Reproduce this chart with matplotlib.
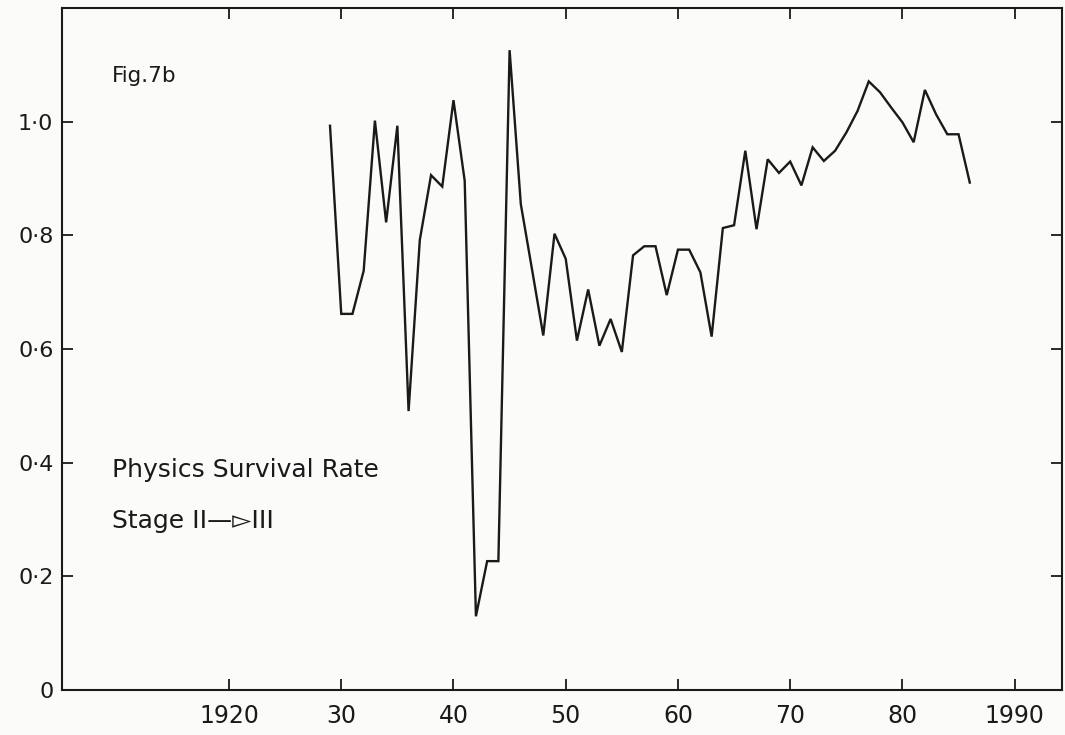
#!/usr/bin/env python3
import numpy as np
import matplotlib
matplotlib.use("Agg")
import matplotlib.pyplot as plt

# survival rate, stage II -> III, one value per year
years = list(range(1929, 1987))
rate = [
    0.993, 0.662, 0.662, 0.738, 1.002, 0.823, 0.993, 0.491, 0.792, 0.906,  # 1929-38
    0.886, 1.038, 0.896, 0.130, 0.227, 0.227, 1.126, 0.855, 0.740, 0.624,  # 1939-48
    0.803, 0.759, 0.615, 0.705, 0.606, 0.653, 0.595, 0.765, 0.781, 0.781,  # 1949-58
    0.695, 0.775, 0.775, 0.735, 0.622, 0.813, 0.818, 0.949, 0.811, 0.934,  # 1959-68
    0.910, 0.930, 0.888, 0.955, 0.931, 0.949, 0.981, 1.019, 1.071, 1.052,  # 1969-78
    1.025, 0.999, 0.964, 1.056, 1.013, 0.978, 0.978, 0.893,                # 1979-86
]

xticks = [1920, 1930, 1940, 1950, 1960, 1970, 1980, 1990]
xticklabels = ["1920", "30", "40", "50", "60", "70", "80", "1990"]
yticks = [0, 0.2, 0.4, 0.6, 0.8, 1.0]
yticklabels = ["0", "0·2", "0·4", "0·6", "0·8", "1·0"]

fig = plt.figure(figsize=(10.65, 7.35), dpi=100)
fig.patch.set_facecolor("#fbfbfa")
ax = fig.add_axes([0.058, 0.061, 0.939, 0.928])
ax.set_facecolor("#fbfbfa")

ax.plot(years, rate, color="#1a1a1a", lw=1.7, solid_joinstyle="miter")

ax.set_xlim(1905.1, 1994.2)
ax.set_ylim(0, 1.2)

ax.set_xticks(xticks)
ax.set_xticklabels(xticklabels, fontsize=17)
ax.set_yticks(yticks)
ax.set_yticklabels(yticklabels, fontsize=16)

ax.tick_params(axis="both", direction="in", length=8, width=1.3, color="#1a1a1a",
               top=True, right=True, labelcolor="#1a1a1a")
ax.tick_params(axis="x", pad=10)
ax.tick_params(axis="y", pad=6)

for s in ax.spines.values():
    s.set_linewidth(1.5)
    s.set_color("#1a1a1a")

ax.text(1909.6, 1.08, "Fig.7b", fontsize=15.5, color="#1a1a1a", va="center")
ax.text(1909.6, 0.388, "Physics Survival Rate", fontsize=18, color="#1a1a1a", va="center")
ax.text(1909.6, 0.297, "Stage II—▻III", fontsize=18, color="#1a1a1a", va="center")

fig.savefig("out.png", dpi=100, facecolor=fig.get_facecolor())
